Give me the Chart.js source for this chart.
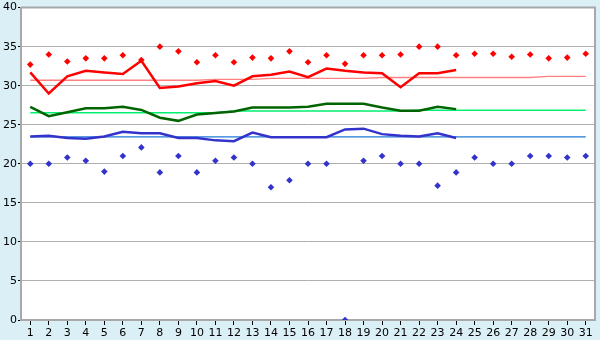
<!DOCTYPE html>
<html><head><meta charset="utf-8">
<script src="https://cdn.jsdelivr.net/npm/chart.js@4/dist/chart.umd.min.js"></script>
<style>html,body{margin:0;padding:0;background:#daeff6}#w{width:600px;height:340px}</style>
</head><body><div id="w"><canvas id="c" width="600" height="340"></canvas></div>
<script>
const days = ["1","2","3","4","5","6","7","8","9","10","11","12","13","14","15","16","17","18","19","20","21","22","23","24","25","26","27","28","29","30","31"];
const maxDots = [32.7,34.0,33.1,33.5,33.5,33.9,33.3,35.0,34.4,33.0,33.9,33.0,33.6,33.5,34.4,33.0,33.9,32.8,33.9,33.9,34.0,35.0,35.0,33.9,34.1,34.1,33.7,34.0,33.5,33.6,34.1];
const minDots = [20.0,20.0,20.8,20.4,19.0,21.0,22.1,18.9,21.0,18.9,20.4,20.8,20.0,17.0,17.9,20.0,20.0,0,20.4,21.0,20.0,20.0,17.2,18.9,20.8,20.0,20.0,21.0,21.0,20.8,21.0];
const maxLine = [31.7,29.0,31.2,31.9,31.7,31.5,33.2,29.7,29.9,30.3,30.6,30.0,31.2,31.4,31.8,31.1,32.2,31.9,31.7,31.6,29.8,31.6,31.6,32.0,null,null,null,null,null,null,null];
const avgLine = [27.3,26.1,26.6,27.1,27.1,27.3,26.9,25.9,25.5,26.3,26.5,26.7,27.2,27.2,27.2,27.3,27.7,27.7,27.7,27.2,26.8,26.8,27.3,27.0,null,null,null,null,null,null,null];
const minLine = [23.5,23.6,23.3,23.2,23.5,24.1,23.9,23.9,23.3,23.3,23.0,22.9,24.0,23.4,23.4,23.4,23.4,24.4,24.5,23.8,23.6,23.5,23.9,23.3,null,null,null,null,null,null,null];
const maxNormal = [30.7,30.7,30.7,30.7,30.7,30.7,30.7,30.7,30.7,30.7,30.8,30.8,30.8,30.95,30.95,30.95,30.95,30.95,30.95,31.05,31.05,31.05,31.05,31.05,31.05,31.05,31.05,31.05,31.2,31.2,31.2];
const avgNormal = [26.55,26.55,26.55,26.55,26.55,26.55,26.55,26.55,26.55,26.55,26.55,26.75,26.75,26.75,26.75,26.75,26.75,26.75,26.75,26.75,26.75,26.85,26.85,26.85,26.85,26.85,26.85,26.85,26.85,26.85,26.85];
const minNormal = [23.45,23.45,23.45,23.45,23.45,23.45,23.45,23.45,23.45,23.45,23.45,23.45,23.45,23.45,23.45,23.45,23.45,23.45,23.45,23.45,23.45,23.45,23.45,23.45,23.45,23.45,23.45,23.45,23.45,23.45,23.45];
const yTicks = [0,5,10,15,20,25,30,35,40];

const frame = {
  id:'frame',
  beforeDraw(ch){
    const {ctx, chartArea:a} = ch;
    ctx.save();
    ctx.fillStyle='#daeff6'; ctx.fillRect(0,0,ch.width,ch.height);
    ctx.fillStyle='#ffffff'; ctx.fillRect(a.left,a.top,a.right-a.left,a.bottom-a.top);
    ctx.restore();
  },
  afterDraw(ch){
    const {ctx, chartArea:a} = ch;
    ctx.save();
    ctx.strokeStyle='#a8a8a8'; ctx.lineWidth=2;
    ctx.beginPath();
    ctx.moveTo(a.left,a.top); ctx.lineTo(a.right,a.top); ctx.lineTo(a.right,a.bottom);
    ctx.stroke();
    ctx.restore();
  }
};

const lineDs = (data,color,w,order)=>({type:'line',data,borderColor:color,backgroundColor:color,borderWidth:w,pointRadius:0,tension:0,spanGaps:false,order,fill:false});
const dotDs = (data,color)=>({type:'line',data,showLine:false,pointStyle:'rectRot',pointRadius:3.3,pointBorderWidth:0,backgroundColor:color,borderColor:color,order:0});

new Chart(document.getElementById('c'),{
  type:'line',
  data:{labels:days,datasets:[
    lineDs(maxNormal,'#ff8080',1.3,5),
    lineDs(avgNormal,'#00f070',1.5,5),
    lineDs(minNormal,'#1e78d8',1.3,5),
    lineDs(maxLine,'#ff0000',2.5,2),
    lineDs(avgLine,'#006400',2.5,2),
    lineDs(minLine,'#3333cc',2.5,2),
    dotDs(maxDots,'#ff0000'),
    dotDs(minDots,'#3333cc')
  ]},
  options:{
    responsive:false,animation:false,
    layout:{padding:{top:5,right:5,left:0,bottom:0}},
    plugins:{legend:{display:false},tooltip:{enabled:false}},
    scales:{
      x:{type:'category',offset:true,
        grid:{display:true,drawOnChartArea:false,drawTicks:true,tickLength:5,tickColor:'#000',offset:false},
        border:{display:true,color:'#a8a8a8',width:2},
        ticks:{color:'#000',font:{family:'DejaVu Sans',size:11},padding:2,maxRotation:0,autoSkip:false},
        afterFit(s){s.height=20;}
      },
      y:{min:0,max:40,
        afterBuildTicks(s){s.ticks=yTicks.map(v=>({value:v}));},
        grid:{color:'#b0b0b0',lineWidth:1,drawTicks:true,tickLength:3,tickColor:'#000'},
        border:{display:true,color:'#a8a8a8',width:2},
        ticks:{color:'#000',font:{family:'DejaVu Sans',size:11},padding:1},
        afterFit(s){s.width=21;}
      }
    }
  },
  plugins:[frame]
});
</script></body></html>
